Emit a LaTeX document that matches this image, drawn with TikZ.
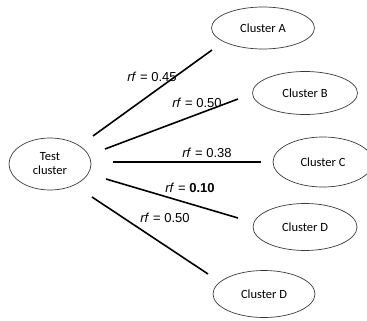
\documentclass[tikz,border=0pt]{standalone}
\usepackage{fontspec}
\setmainfont{Liberation Sans}
\newfontfamily\clfont{Carlito}
\usepackage{tikz}
\usetikzlibrary{shapes.geometric}
\definecolor{edgex}{HTML}{3A3A3A}
\tikzset{
  clu/.style={ellipse,draw=edgex,line width=0.7pt,inner sep=0pt,align=center,font=\clfont\fontsize{12.5}{14}\selectfont},
  lnk/.style={line width=1.6pt,black},
  rfl/.style={font=\fontsize{13}{15}\selectfont,inner sep=1pt}
}
\newcommand{\rf}[1]{\textit{rf} = #1}
\begin{document}
\begin{tikzpicture}[x=1pt,y=-1pt]
\useasboundingbox (0,0) rectangle (367,321);
\node[clu,minimum width=82,minimum height=52] (test) at (50,164) {Test\\cluster};
\node[clu,minimum width=103,minimum height=42] (ca) at (263,28) {Cluster A};
\node[clu,minimum width=105,minimum height=43] (cb) at (305,93) {Cluster B};
\node[clu,minimum width=100,minimum height=50] (cc) at (323,162) {Cluster C};
\node[clu,minimum width=104,minimum height=47] (cd) at (305,227) {Cluster D};
\node[clu,minimum width=102,minimum height=47] (ce) at (264,294) {Cluster D};
% line ends
\coordinate (a0) at (93,136);  \coordinate (a1) at (212,50);
\coordinate (b0) at (105,149); \coordinate (b1) at (238,99);
\coordinate (c0) at (113,162); \coordinate (c1) at (261,162);
\coordinate (d0) at (106,179); \coordinate (d1) at (238,218);
\coordinate (e0) at (92,197);  \coordinate (e1) at (208,274);
\draw[lnk] (a0) -- (a1);
\draw[lnk] (b0) -- (b1);
\draw[lnk] (c0) -- (c1);
\draw[lnk] (d0) -- (d1);
\draw[lnk] (e0) -- (e1);
% labels
\node[rfl] (la) at (152,77) {\rf{0.45}};
\node[rfl] (lb) at (197,103) {\rf{0.50}};
\node[rfl] (lc) at (207,153) {\rf{0.38}};
\node[rfl] (ld) at (190,188) {\rf{\textbf{0.10}}};
\node[rfl] (le) at (165,218) {\rf{0.50}};
\end{tikzpicture}
\end{document}
